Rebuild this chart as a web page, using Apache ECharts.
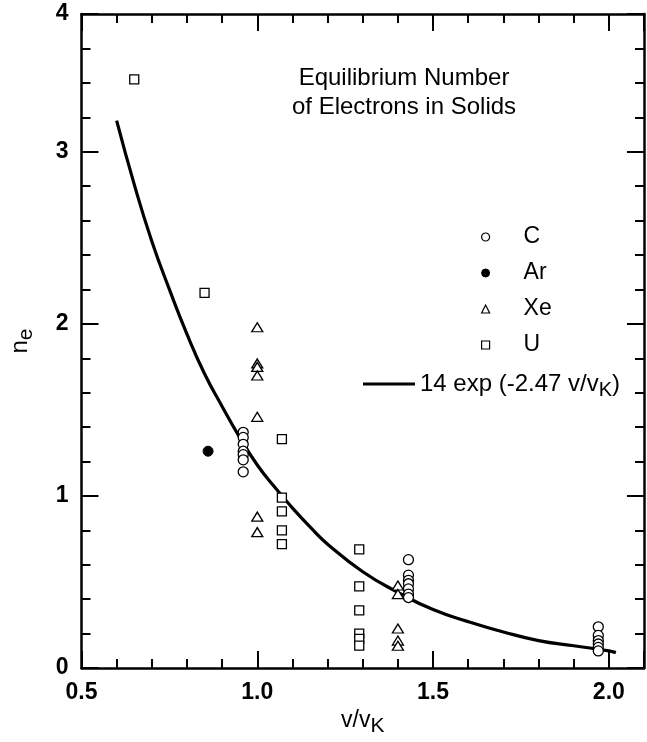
<!DOCTYPE html>
<html><head><meta charset="utf-8">
<script src="https://cdn.jsdelivr.net/npm/echarts@6/dist/echarts.min.js"></script>
<style>html,body{margin:0;padding:0;background:#fff}#c{width:647px;height:742px}</style>
</head><body><div id="c"></div>
<script>
// ---- data ----
const xTickLabels = ['0.5', '1.0', '1.5', '2.0'];
const yTickLabels = ['0', '1', '2', '3', '4'];
const titleLines = ['Equilibrium Number', 'of Electrons in Solids'];
const seriesNames = ['C', 'Ar', 'Xe', 'U'];
const fitName = '14 exp (-2.47 v/vK)';

const carbon = [
  [0.96, 1.37], [0.96, 1.34], [0.96, 1.30], [0.96, 1.26], [0.96, 1.24], [0.96, 1.21], [0.96, 1.14],
  [1.43, 0.63], [1.43, 0.54], [1.43, 0.51], [1.43, 0.49], [1.43, 0.46], [1.43, 0.43], [1.43, 0.41],
  [1.97, 0.24], [1.97, 0.19], [1.97, 0.16], [1.97, 0.14], [1.97, 0.12], [1.97, 0.10]
];
const argon = [[0.86, 1.26]];
const xenon = [
  [1.00, 1.98], [1.00, 1.77], [1.00, 1.75], [1.00, 1.70], [1.00, 1.46], [1.00, 0.88], [1.00, 0.79],
  [1.40, 0.48], [1.40, 0.43], [1.40, 0.23], [1.40, 0.16], [1.40, 0.13]
];
const uranium = [
  [0.65, 3.42], [0.85, 2.18],
  [1.07, 1.33], [1.07, 0.99], [1.07, 0.91], [1.07, 0.80], [1.07, 0.72],
  [1.29, 0.69], [1.29, 0.475], [1.29, 0.335], [1.29, 0.20], [1.29, 0.17], [1.29, 0.13]
];
const fitCurve = [
  [0.60, 3.18], [0.65, 2.81], [0.70, 2.48], [0.75, 2.20], [0.80, 1.94], [0.85, 1.71],
  [0.90, 1.52], [0.95, 1.34], [1.00, 1.18], [1.05, 1.05], [1.10, 0.93], [1.15, 0.82],
  [1.20, 0.72], [1.30, 0.56], [1.40, 0.44], [1.50, 0.34], [1.60, 0.27], [1.70, 0.21],
  [1.80, 0.16], [1.90, 0.13], [2.00, 0.10], [2.02, 0.09]
];

// ---- chart ----
const FONT = "'Liberation Sans', Arial, Helvetica, sans-serif";
const INK = '#000';
const X_MIN = 0.5, X_MAX = 2.1, Y_MIN = 0, Y_MAX = 3.8;

function xLabel(v) {
  const i = Math.round((v - 0.5) / 0.5);
  if (Math.abs(v - (0.5 + i * 0.5)) < 1e-6 && i >= 0 && i < xTickLabels.length) return xTickLabels[i];
  return '';
}
function yLabel(v) {
  if (v >= Y_MAX - 1e-6) return yTickLabels[4];
  const i = Math.round(v);
  if (Math.abs(v - i) < 1e-6 && i < 4) return yTickLabels[i];
  return '';
}

function mkAxis(dim, pos, major, extra) {
  const isX = dim === 'x';
  return Object.assign({
    type: 'value',
    position: pos,
    min: isX ? X_MIN : Y_MIN,
    max: isX ? X_MAX : Y_MAX,
    interval: major ? (isX ? 0.5 : 1) : (isX ? 0.1 : 0.2),
    axisLine: { show: major, onZero: false, lineStyle: { color: INK, width: 2.5 } },
    axisTick: { show: true, inside: true, length: major ? 17 : 9, lineStyle: { color: INK, width: 2 } },
    axisLabel: { show: false },
    splitLine: { show: false },
    minorTick: { show: false }
  }, extra || {});
}

const labelStyle = { fontFamily: FONT, fontSize: 23, fontWeight: 'bold', color: INK };
const openStyle = { color: '#fff', borderColor: INK, borderWidth: 1.2, opacity: 1 };

const chart = echarts.init(document.getElementById('c'), null, { renderer: 'canvas' });
chart.setOption({
  backgroundColor: '#fff',
  animation: false,
  grid: { left: 75, top: 14, width: 575, height: 656, containLabel: false },
  title: {
    text: titleLines.join('\n'),
    left: 399, top: 59, textAlign: 'center',
    textStyle: { fontFamily: FONT, fontSize: 24, fontWeight: 'normal', color: INK, lineHeight: 29 }
  },
  legend: [
    {
      data: [
        { name: seriesNames[0], icon: 'circle', itemStyle: openStyle },
        { name: seriesNames[1], icon: 'circle', itemStyle: { color: INK, borderColor: INK, borderWidth: 1, opacity: 1 } },
        { name: seriesNames[2], icon: 'triangle', itemStyle: openStyle },
        { name: seriesNames[3], icon: 'rect', itemStyle: openStyle }
      ],
      orient: 'vertical', left: 481, top: 224, padding: 0,
      itemWidth: 8, itemHeight: 8, itemGap: 10, selectedMode: false,
      formatter: (name) => '{t|' + name + '}',
      textStyle: {
        fontFamily: FONT, fontSize: 23, color: INK, lineHeight: 26,
        rich: { t: { fontFamily: FONT, fontSize: 23, color: INK, lineHeight: 26, padding: [0, 0, 0, 29] } }
      }
    },
    {
      data: [{ name: fitName, icon: 'rect', itemStyle: { color: INK, borderWidth: 0, opacity: 1 } }],
      left: 363, top: 372, padding: 0,
      itemWidth: 52, itemHeight: 3, selectedMode: false,
      formatter: () => '{n|14 exp (-2.47 v/v}{s|K}{n|)}',
      textStyle: {
        fontFamily: FONT, fontSize: 24, color: INK,
        rich: {
          n: { fontFamily: FONT, fontSize: 24, color: INK },
          s: { fontFamily: FONT, fontSize: 20, color: INK, padding: [12, 0, 0, 0] }
        }
      }
    }
  ],
  xAxis: [
    mkAxis('x', 'bottom', true, {
      axisLabel: Object.assign({ show: true, margin: 13, formatter: xLabel }, labelStyle),
      name: '{n|v/v}{s|K}', nameLocation: 'middle', nameGap: 33,
      nameTextStyle: {
        fontFamily: FONT, fontSize: 23, color: INK,
        rich: {
          n: { fontFamily: FONT, fontSize: 23, color: INK },
          s: { fontFamily: FONT, fontSize: 21, color: INK, padding: [12, 0, 0, 0] }
        }
      }
    }),
    mkAxis('x', 'bottom', false),
    mkAxis('x', 'top', true),
    mkAxis('x', 'top', false)
  ],
  yAxis: [
    mkAxis('y', 'left', true, {
      axisLabel: Object.assign({ show: true, margin: 13, formatter: yLabel }, labelStyle),
      name: '{n|n}{s|e}', nameLocation: 'middle', nameGap: 45, nameRotate: 90,
      nameTextStyle: {
        fontFamily: FONT, fontSize: 24, color: INK,
        rich: {
          n: { fontFamily: FONT, fontSize: 24, color: INK },
          s: { fontFamily: FONT, fontSize: 21, color: INK, padding: [12, 0, 0, 0] }
        }
      }
    }),
    mkAxis('y', 'left', false),
    mkAxis('y', 'right', true),
    mkAxis('y', 'right', false)
  ],
  series: [
    {
      name: fitName, type: 'line', data: fitCurve, smooth: true, symbol: 'none',
      lineStyle: { color: INK, width: 3.2 }, itemStyle: { color: INK }, z: 2
    },
    {
      name: seriesNames[0], type: 'scatter', data: carbon, symbol: 'circle', symbolSize: 10,
      itemStyle: { color: '#fff', borderColor: INK, borderWidth: 1.3, opacity: 1 }, z: 3
    },
    {
      name: seriesNames[1], type: 'scatter', data: argon, symbol: 'circle', symbolSize: 10,
      itemStyle: { color: INK, borderColor: INK, borderWidth: 1, opacity: 1 }, z: 3
    },
    {
      name: seriesNames[2], type: 'scatter', data: xenon, symbol: 'triangle', symbolSize: [11, 9],
      itemStyle: { color: '#fff', borderColor: INK, borderWidth: 1.3, opacity: 1 }, z: 3
    },
    {
      name: seriesNames[3], type: 'scatter', data: uranium, symbol: 'rect', symbolSize: 9,
      itemStyle: { color: '#fff', borderColor: INK, borderWidth: 1.3, opacity: 1 }, z: 3
    }
  ]
});
</script>
</body></html>
